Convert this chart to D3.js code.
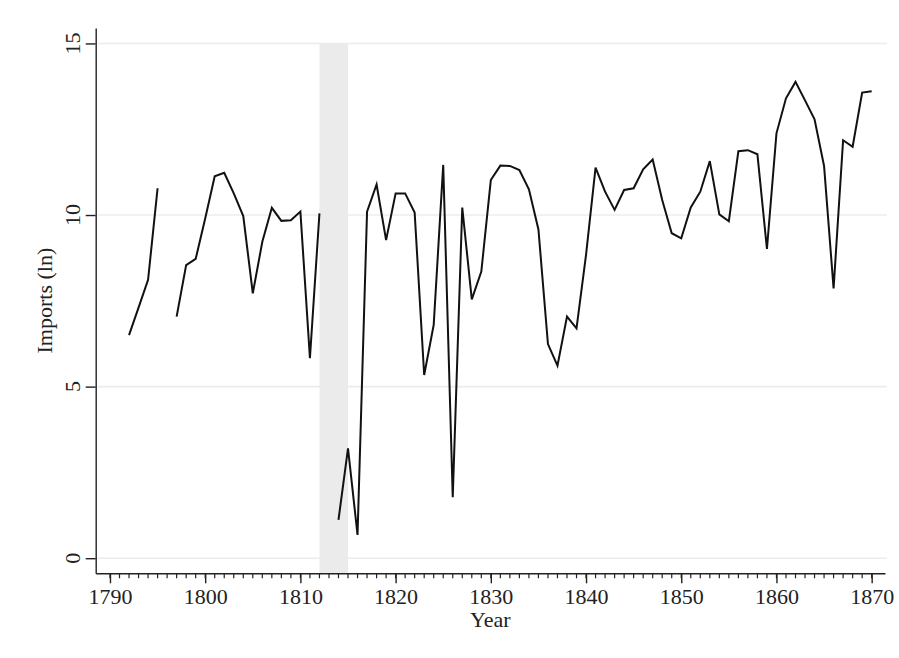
<!DOCTYPE html>
<html>
<head>
<meta charset="utf-8">
<script src="https://cdn.jsdelivr.net/npm/d3@7/dist/d3.min.js"></script>
<style>
  body { margin: 0; background: #fff; }
  svg text { font-family: "Liberation Serif", "Times New Roman", serif; fill: #222; }
</style>
</head>
<body>
<div class="chart"></div>
<script>
// Imports (ln) per year, 1792-1870. null = no observation (line breaks there).
var years = d3.range(1792, 1871)
var imports = [
  6.50, 7.30, 8.11, 10.78, null,                                  // 1792-1796
  7.04, 8.54, 8.72, 9.90, 11.13, 11.23, 10.63, 9.97,              // 1797-1804
  7.72, 9.22, 10.21, 9.83, 9.85, 10.10, 5.83, 10.05, null,        // 1805-1813
  1.12, 3.20, 0.68, 10.10, 10.89, 9.27, 10.63, 10.63,             // 1814-1821
  10.07, 5.34, 6.80, 11.46, 1.78, 10.22, 7.54, 8.35,              // 1822-1829
  11.02, 11.44, 11.43, 11.31, 10.75, 9.58, 6.24, 5.61, 7.04, 6.70,// 1830-1839
  8.84, 11.38, 10.68, 10.15, 10.73, 10.78, 11.33, 11.62, 10.44, 9.47, // 1840-1849
  9.32, 10.22, 10.68, 11.57, 10.02, 9.82, 11.86, 11.89, 11.77, 9.01,  // 1850-1859
  12.38, 13.40, 13.88, 13.34, 12.79, 11.43, 7.86, 12.18, 11.99, 13.57, // 1860-1869
  13.61                                                            // 1870
]
var xTicks = [1790, 1800, 1810, 1820, 1830, 1840, 1850, 1860, 1870]
var yTicks = [0, 5, 10, 15]
var shadeYears = [1812, 1815]   // grey band (war years)

;(function(){
  var rows = years.map(function(yr, i){ return {year: yr, v: imports[i]} })

  var W = 899, H = 658
  var svg = d3.select('.chart').append('svg').attr('width', W).attr('height', H)

  // plot region (pixels)
  var pl = 95.7, pr = 885, pt = 28, pb = 573.3
  var fs = 22

  var x = d3.scaleLinear().domain([1788.5, 1871.4]).range([pl, pr])
  var y = d3.scaleLinear().domain([-0.44, 15.45]).range([pb, pt])

  // ---- gridlines ----
  svg.append('g').selectAll('line').data(yTicks).join('line')
    .attr('x1', pl + 2).attr('x2', pr + 2)
    .attr('y1', function(d){ return y(d) }).attr('y2', function(d){ return y(d) })
    .attr('stroke', '#ececec').attr('stroke-width', 1.6)

  // ---- shaded band ----
  svg.append('rect')
    .attr('x', x(shadeYears[0])).attr('width', x(shadeYears[1]) - x(shadeYears[0]))
    .attr('y', y(15)).attr('height', pb - y(15))
    .attr('fill', '#ebebeb')

  // ---- series ----
  var line = d3.line()
    .defined(function(d){ return d.v != null })
    .x(function(d){ return x(d.year) })
    .y(function(d){ return y(d.v) })

  svg.append('path')
    .attr('d', line(rows))
    .attr('fill', 'none').attr('stroke', '#111').attr('stroke-width', 2)

  // ---- x axis ----
  var xAxis = d3.axisBottom(x).tickValues(xTicks).tickFormat(d3.format('d'))
    .tickSize(10).tickPadding(5).tickSizeOuter(0)
  var gx = svg.append('g').attr('transform', 'translate(0,' + pb + ')').call(xAxis)
  gx.select('.domain').attr('stroke', '#222').attr('stroke-width', 1.4)
  gx.selectAll('.tick line').attr('stroke', '#222').attr('stroke-width', 1.4)
  gx.selectAll('.tick text').attr('font-size', fs).attr('fill', '#222')
    .attr('font-family', '"Liberation Serif", "Times New Roman", serif')

  // minor (yearly) ticks
  svg.append('g').selectAll('line').data(d3.range(1790, 1871)).join('line')
    .attr('x1', function(d){ return x(d) }).attr('x2', function(d){ return x(d) })
    .attr('y1', pb).attr('y2', pb + 5)
    .attr('stroke', '#222').attr('stroke-width', 1.2)

  // ---- y axis ----
  var yAxis = d3.axisLeft(y).tickValues(yTicks).tickSize(10).tickSizeOuter(0).tickFormat('')
  var gy = svg.append('g').attr('transform', 'translate(' + pl + ',0)').call(yAxis)
  gy.select('.domain').attr('stroke', '#222').attr('stroke-width', 1.4)
  gy.selectAll('.tick line').attr('stroke', '#222').attr('stroke-width', 1.4)

  svg.append('g').selectAll('text').data(yTicks).join('text')
    .attr('transform', function(d){ return 'translate(80,' + y(d) + ') rotate(-90)' })
    .attr('text-anchor', 'middle').attr('font-size', fs)
    .text(function(d){ return d })

  // ---- axis titles ----
  svg.append('text').text('Imports (ln)')
    .attr('transform', 'translate(52,' + ((pt + pb) / 2) + ') rotate(-90)')
    .attr('text-anchor', 'middle').attr('font-size', fs)

  svg.append('text').text('Year')
    .attr('x', (pl + pr) / 2).attr('y', 627)
    .attr('text-anchor', 'middle').attr('font-size', fs)
})()
</script>
</body>
</html>
